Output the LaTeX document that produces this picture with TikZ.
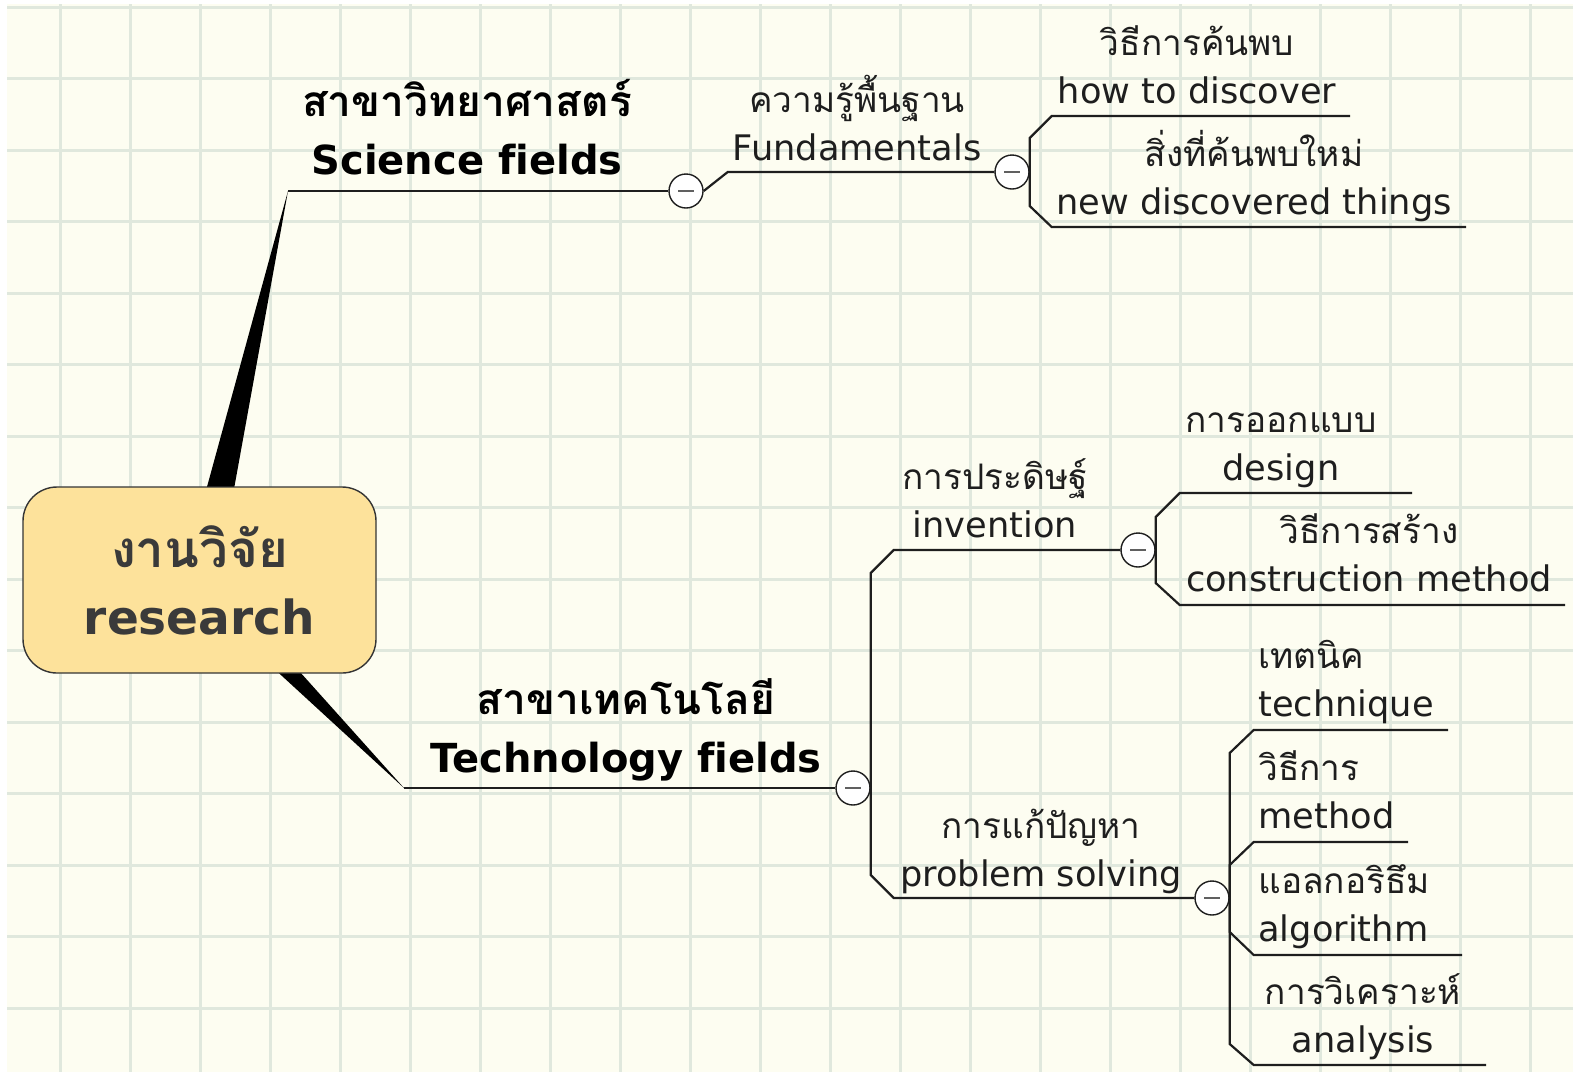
\documentclass[tikz,border=0pt]{standalone}
\usepackage{fontspec}
\setmainfont{DejaVu Sans}[Ligatures=NoCommon]
\newfontfamily\thaifont[Script=Thai]{Loma}
\definecolor{paper}{RGB}{253,253,241}
\definecolor{gridc}{RGB}{224,232,221}
\definecolor{ink}{RGB}{30,30,30}
\definecolor{rootfill}{RGB}{253,226,155}
\definecolor{roottext}{RGB}{58,58,58}
\newcommand{\thbig}{\thaifont\fontsize{21.2}{29}\selectfont}
\newcommand{\throot}{\thaifont\fontsize{25.5}{33.5}\selectfont}
\begin{document}
\begin{tikzpicture}[x=0.5pt,y=-0.5pt,
  conn/.style={draw=ink, line width=1.1pt},
  toggle/.style={circle, draw=ink, fill=white, line width=0.7pt, minimum size=17pt, inner sep=0pt,
    path picture={\draw[gray!75!black, line width=1.3pt] ([xshift=-4pt]path picture bounding box.center) -- ([xshift=4pt]path picture bounding box.center);}},
  wedge/.style={fill=black},
  lvlone/.style={anchor=base, align=center, font=\bfseries\fontsize{20}{29}\selectfont, text=black, inner sep=0pt},
  topic/.style={anchor=base, align=center, font=\fontsize{17.6}{24}\selectfont, text=ink, inner sep=0pt},
  topicl/.style={topic, anchor=base west, align=left},
  rootbox/.style={draw=ink!90, line width=0.7pt, fill=rootfill, rounded corners=17pt, minimum width=176.5pt, minimum height=93pt, align=center, text=roottext, font=\bfseries\fontsize{23.5}{33.5}\selectfont},
]
\useasboundingbox (0,0) rectangle (1573,1072);
\fill[paper] (7,4) rectangle (1573,1072);
\foreach \k in {0,...,21} \draw[gridc, line width=1.5pt] ({60+70*\k},4) -- ({60+70*\k},1072);
\foreach \k in {0,...,14} \draw[gridc, line width=1.5pt] (7,{7+71.5*\k}) -- (1573,{7+71.5*\k});

% root and wedges
\coordinate (rootc) at (199.5,580);
\coordinate (sciT) at (288,191);
\coordinate (techT) at (404,788);
\fill[wedge] ([xshift=-9pt]rootc) -- (sciT) -- ([xshift=9pt]rootc) -- cycle;
\fill[wedge] ([xshift=-11pt]rootc) -- (techT) -- ([xshift=9pt]rootc) -- cycle;
\node[rootbox] (root) at (rootc) {{\throot งานวิจัย}\\research};

% science branch
\node[toggle] (t1) at (686,191) {};
\node[toggle] (t2) at (1012,172) {};
\draw[conn] (sciT) -- (t1.west);
\draw[conn] (t1.east) -- ++(24,-19) -- (t2.west);
\node[lvlone] (sci) at (467,174) {{\thbig สาขาวิทยาศาสตร์}\\Science fields};
\node[topic] (fund) at (857,160) {{\thaifont ความรู้พื้นฐาน}\\Fundamentals};
\node[topic] (disc) at (1197,103) {{\thaifont วิธีการค้นพบ}\\how to discover};
\node[topic] (newd) at (1254,214) {{\thaifont สิ่งที่ค้นพบใหม่}\\new discovered things};
\coordinate (discE) at (1350,116);
\coordinate (newdE) at (1466,227);
\draw[conn] (t2.east) -- ++(0,-34) -- ++(22,-22) -- (discE);
\draw[conn] (t2.east) -- ++(0,34) -- ++(22,21) -- (newdE);

% technology branch
\node[toggle] (t3) at (853,788) {};
\node[toggle] (t4) at (1138,550) {};
\node[toggle] (t5) at (1212,898) {};
\draw[conn] (techT) -- (t3.west);
\draw[conn] (t3.east) -- ++(0,-215) -- ++(23,-23) -- (t4.west);
\draw[conn] (t3.east) -- ++(0,87) -- ++(23,23) -- (t5.west);
\node[lvlone] (tech) at (626,772) {{\thbig สาขาเทคโนโลยี}\\Technology fields};
\node[topic] (inv) at (995,537) {{\thaifont การประดิษฐ์}\\invention};
\node[topic] (prob) at (1041,886) {{\thaifont การแก้ปัญหา}\\problem solving};

% invention children
\node[topic] (des) at (1281,480) {{\thaifont การออกแบบ}\\design};
\node[topic] (cons) at (1369,591) {{\thaifont วิธีการสร้าง}\\construction method};
\coordinate (desE) at (1412,493);
\coordinate (consE) at (1565,605);
\draw[conn] (t4.east) -- ++(0,-33) -- ++(24,-24) -- (desE);
\draw[conn] (t4.east) -- ++(0,33) -- ++(24,22) -- (consE);

% problem solving children
\node[topicl] (techq) at (1258,716) {{\thaifont เทตนิค}\\technique};
\node[topicl] (meth) at (1258,828) {{\thaifont วิธีการ}\\method};
\node[topicl] (algo) at (1258,941) {{\thaifont แอลกอริธึม}\\algorithm};
\node[topic] (anal) at (1363,1052) {{\thaifont การวิเคราะห์}\\analysis};
\coordinate (techqE) at (1448,730);
\coordinate (methE) at (1408,842);
\coordinate (algoE) at (1462,955);
\coordinate (analE) at (1486,1065);
\draw[conn] (t5.east) -- ++(0,-145) -- ++(24,-23) -- (techqE);
\draw[conn] (t5.east) -- ++(0,-33) -- ++(24,-23) -- (methE);
\draw[conn] (t5.east) -- ++(0,34) -- ++(24,23) -- (algoE);
\draw[conn] (t5.east) -- ++(0,146) -- ++(24,21) -- (analE);
\end{tikzpicture}
\end{document}
